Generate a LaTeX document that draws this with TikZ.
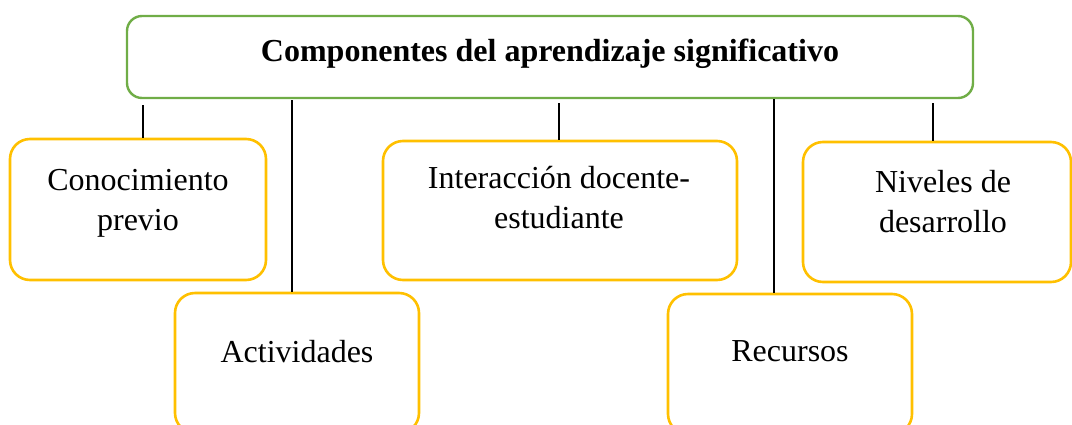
\documentclass[tikz,border=0pt]{standalone}
\usepackage{fontspec}
\setmainfont{Liberation Serif}
\definecolor{boxgreen}{HTML}{70AD47}
\definecolor{boxyellow}{HTML}{FFC000}
\tikzset{
  topbox/.style={draw=boxgreen, line width=1.2pt, rounded corners=7.5pt, fill=white, minimum width=423pt, minimum height=41pt, inner sep=0pt},
  itembox/.style={draw=boxyellow, line width=1.3pt, rounded corners=10pt, fill=white, inner sep=0pt},
  lbl/.style={font=\fontsize{16pt}{20pt}\selectfont, align=center, inner sep=0pt, anchor=base},
  conn/.style={draw=black, line width=0.75pt}
}
\begin{document}
\begin{tikzpicture}[x=0.5pt,y=-0.5pt]
\useasboundingbox (0,0) rectangle (1072,424);
\node[topbox] (top) at (550,57) {};
\node[lbl, font=\fontsize{16pt}{20pt}\selectfont\bfseries] (toptxt) at (550,61) {Componentes del aprendizaje significativo};

\node[itembox, minimum width=128pt, minimum height=70.5pt] (conoc) at (138,209.5) {};
\node[itembox, minimum width=122pt, minimum height=70pt] (activ) at (297,363) {};
\node[itembox, minimum width=177pt, minimum height=69.5pt] (inter) at (560,210.5) {};
\node[itembox, minimum width=122pt, minimum height=70pt] (recur) at (790,364) {};
\node[itembox, minimum width=134pt, minimum height=70pt] (nivel) at (937,212) {};

\node[lbl] (conoctxt) at (138,230) {Conocimiento\\previo};
\node[lbl] (activtxt) at (297,362) {Actividades};
\node[lbl] (intertxt) at (559,228) {Interacción docente-\\estudiante};
\node[lbl] (recurtxt) at (790,361) {Recursos};
\node[lbl] (niveltxt) at (943,232) {Niveles de\\desarrollo};

\draw[conn] ([xshift=2.5pt]conoc.north) -- ([xshift=2.5pt,yshift=-3pt]conoc.north |- top.south);
\draw[conn] ([xshift=-2.5pt]activ.north) -- ([xshift=-2.5pt,yshift=-0.5pt]activ.north |- top.south);
\draw[conn] ([xshift=-0.5pt]inter.north) -- ([xshift=-0.5pt,yshift=-2pt]inter.north |- top.south);
\draw[conn] ([xshift=-8pt]recur.north) -- ([xshift=-8pt]recur.north |- top.south);
\draw[conn] ([xshift=-2pt]nivel.north) -- ([xshift=-2pt,yshift=-2pt]nivel.north |- top.south);
\end{tikzpicture}
\end{document}
